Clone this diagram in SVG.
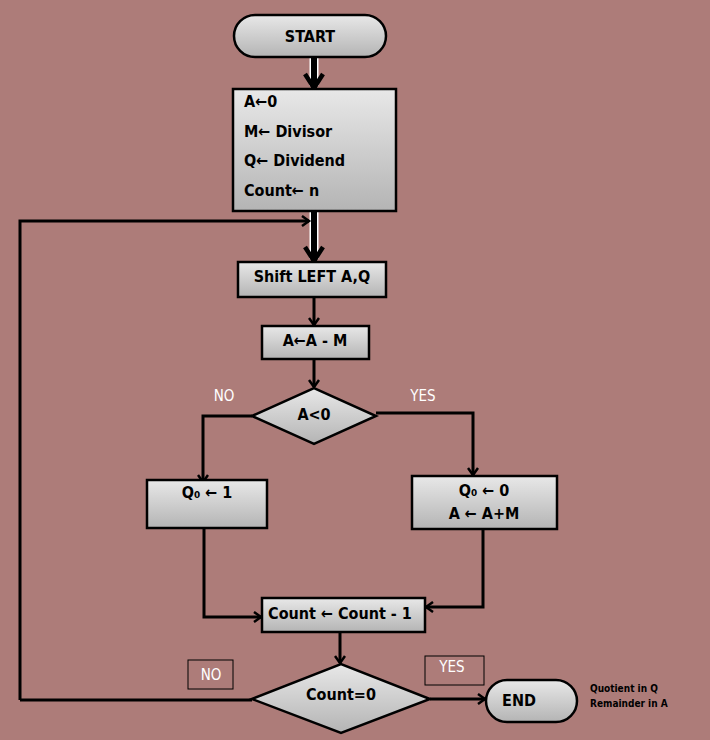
<svg xmlns="http://www.w3.org/2000/svg" width="710" height="740" viewBox="0 0 710 740">
<defs>
<linearGradient id="g" x1="0" y1="0" x2="0" y2="1">
<stop offset="0" stop-color="#e8e8e8"/>
<stop offset="1" stop-color="#b4b4b4"/>
</linearGradient>
<marker id="ah" markerWidth="12" markerHeight="12" refX="9" refY="6" orient="auto" markerUnits="userSpaceOnUse">
<path d="M2,1 L9,6 L2,11" fill="none" stroke="#000" stroke-width="2.5"/>
</marker>
<marker id="ahb" markerWidth="24" markerHeight="24" refX="18" refY="12" orient="auto" markerUnits="userSpaceOnUse">
<path d="M4,3 L18,12 L4,21" fill="none" stroke="#000" stroke-width="4.5"/>
</marker>
</defs>
<style>
.shape{fill:url(#g);stroke:#000;stroke-width:2.5}
.t{font-family:"DejaVu Sans Condensed","DejaVu Sans","Liberation Sans",sans-serif;font-stretch:condensed;font-weight:bold;font-size:16px;fill:#000}
.c{text-anchor:middle}
.ln{fill:none;stroke:#000;stroke-width:3}
.thick{fill:none;stroke:#000;stroke-width:6}
.halo{fill:none;stroke:#fff;stroke-width:9}
.lbl{font-family:"DejaVu Sans Condensed","DejaVu Sans",sans-serif;font-stretch:condensed;font-size:15px;fill:#fff}
.box{fill:none;stroke:#000;stroke-width:1}
.note{font-family:"DejaVu Sans Condensed","DejaVu Sans",sans-serif;font-stretch:condensed;font-weight:bold;font-size:10px;fill:#000}
</style>
<rect width="710" height="740" fill="#ad7c79"/>
<g id="connectors">
<path d="M314,57 V86" class="halo"/>
<path d="M314,57 V88" class="thick" marker-end="url(#ahb)"/>
<path d="M314,211 V259" class="halo"/>
<path d="M314,211 V261" class="thick" marker-end="url(#ahb)"/>
<path d="M20,700 V221 H309" class="ln" marker-end="url(#ah)"/>
<path d="M314,297 V325" class="ln" marker-end="url(#ah)"/>
<path d="M314,359 V387" class="ln" marker-end="url(#ah)"/>
<path d="M252,416 H203 V482" class="ln" marker-end="url(#ah)"/>
<path d="M376,413 H473 V475" class="ln" marker-end="url(#ah)"/>
<path d="M204,528 V617 H261" class="ln" marker-end="url(#ah)"/>
<path d="M483,529 V607 H426" class="ln" marker-end="url(#ah)"/>
<path d="M340,632 V663" class="ln" marker-end="url(#ah)"/>
<path d="M252,700 H20" class="ln"/>
<path d="M430,699 H485" class="ln" marker-end="url(#ah)"/>
</g>
<g id="start">
<rect x="234" y="15" width="152" height="42" rx="21" class="shape"/>
<text x="310" y="42" class="t c" font-size="17">START</text>
</g>
<g id="init">
<rect x="233" y="89" width="163" height="122" class="shape"/>
<text x="244" y="107" class="t">A←0</text>
<text x="244" y="137" class="t">M← Divisor</text>
<text x="244" y="166" class="t">Q← Dividend</text>
<text x="244" y="196" class="t">Count← n</text>
</g>
<g id="shift">
<rect x="238" y="262" width="148" height="35" class="shape"/>
<text x="312" y="282" class="t c">Shift LEFT A,Q</text>
</g>
<g id="sub">
<rect x="262" y="326" width="107" height="33" class="shape"/>
<text x="315" y="346" class="t c">A←A - M</text>
</g>
<g id="dec1">
<path d="M252,416 L314,388 L376,416 L314,444 Z" class="shape"/>
<text x="314" y="420" class="t c">A&lt;0</text>
</g>
<text x="224" y="401" class="lbl c">NO</text>
<text x="423" y="401" class="lbl c">YES</text>
<g id="q1">
<rect x="147" y="480" width="120" height="48" class="shape"/>
<text x="207" y="498" class="t c">Q₀ ← 1</text>
</g>
<g id="q0">
<rect x="412" y="476" width="145" height="53" class="shape"/>
<text x="484" y="496" class="t c">Q₀ ← 0</text>
<text x="484" y="519" class="t c">A ← A+M</text>
</g>
<g id="count">
<rect x="262" y="598" width="163" height="34" class="shape"/>
<text x="340" y="619" class="t c">Count ← Count - 1</text>
</g>
<g id="dec2">
<path d="M252,699 L341,664 L430,699 L341,733 Z" class="shape"/>
<text x="341" y="700" class="t c">Count=0</text>
</g>
<g id="nolabel">
<rect x="188" y="660" width="45" height="29" class="box"/>
<text x="211" y="680" class="lbl c">NO</text>
</g>
<g id="yeslabel">
<rect x="425" y="656" width="59" height="29" class="box"/>
<text x="452" y="672" class="lbl c">YES</text>
</g>
<g id="end">
<rect x="486" y="680" width="91" height="42" rx="21" class="shape"/>
<text x="519" y="706" class="t c" font-size="17">END</text>
</g>
<g id="note">
<text x="590" y="692" class="note">Quotient in Q</text>
<text x="590" y="707" class="note">Remainder in A</text>
</g>
</svg>
